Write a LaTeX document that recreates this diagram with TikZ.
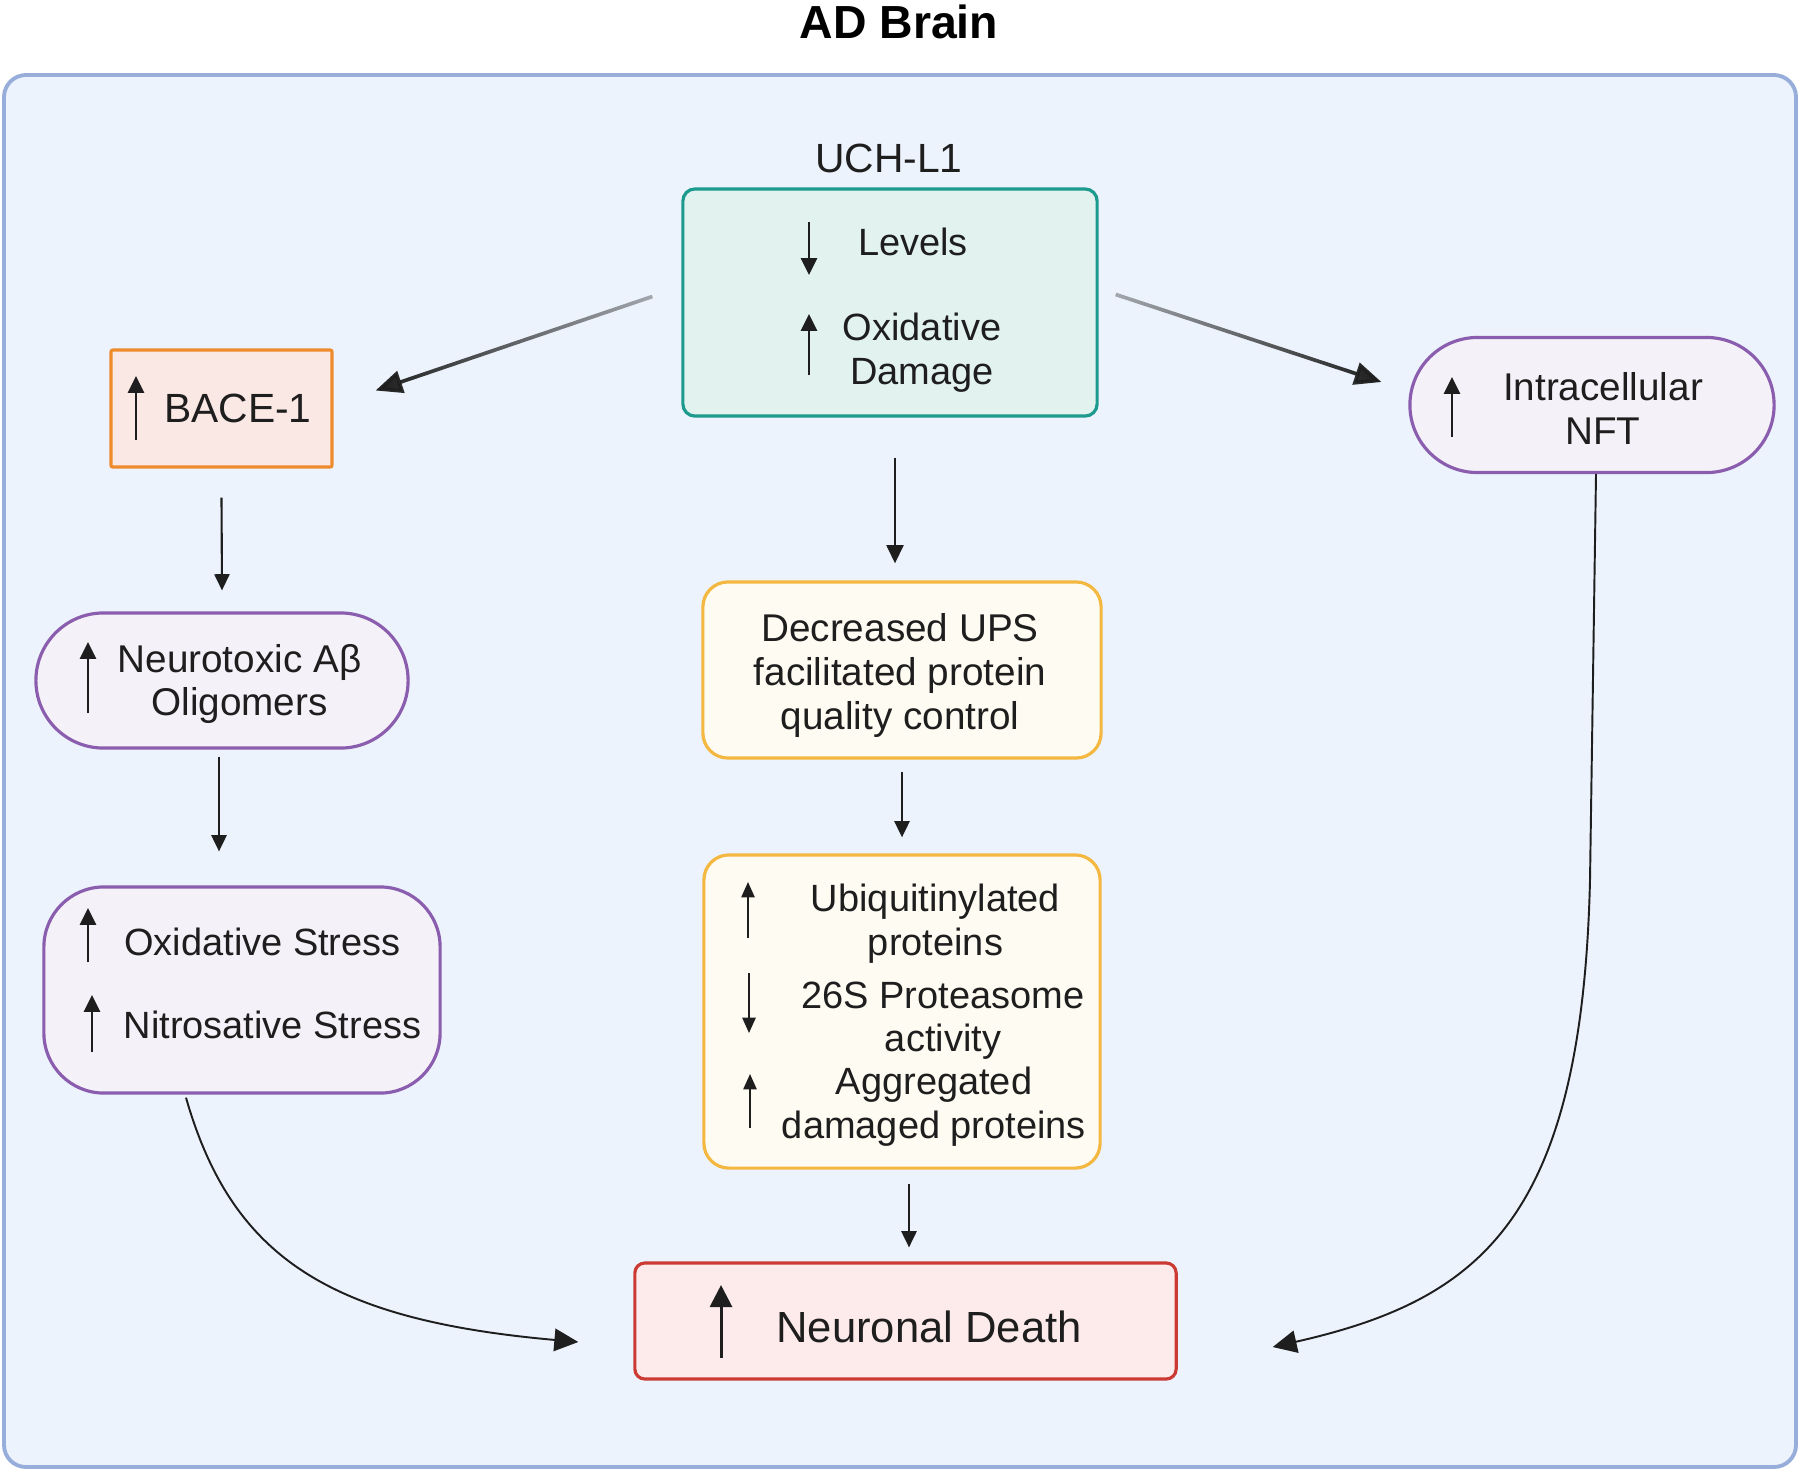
\documentclass[tikz,border=0pt]{standalone}
\usepackage{fontspec}
\setmainfont{Liberation Sans}
\usepackage{xcolor}
\usetikzlibrary{arrows.meta,calc,fadings}
\definecolor{panelfill}{HTML}{ECF3FC}
\definecolor{panelline}{HTML}{97AEDB}
\definecolor{ink}{HTML}{1E1E1E}
\definecolor{tealline}{HTML}{1C9A8D}
\definecolor{tealfill}{HTML}{E2F2EF}
\definecolor{orangeline}{HTML}{EE8B2D}
\definecolor{orangefill}{HTML}{FAE8E4}
\definecolor{purpleline}{HTML}{8A5DAE}
\definecolor{purplefill}{HTML}{F5F1F8}
\definecolor{yellowline}{HTML}{F4B73F}
\definecolor{yellowfill}{HTML}{FEFBF2}
\definecolor{redline}{HTML}{CB3A33}
\definecolor{redfill}{HTML}{FDEBEB}
\tikzfading[name=faderight, left color=transparent!0, middle color=transparent!0, right color=transparent!65]
\tikzfading[name=fadeleft, left color=transparent!65, middle color=transparent!0, right color=transparent!0]

\begin{document}
\begin{tikzpicture}[x=0.01cm,y=-0.01cm,
  box/.style={draw,line width=0.9pt,inner sep=0pt},
  txt/.style={font=\fontsize{10.8}{12.4}\selectfont,inner sep=0pt,text=ink},
  ind/.style={draw=ink,line width=0.65pt,-{Triangle[length=4.8pt,width=4.6pt]}},
  diag/.style={draw=ink,line width=1.05pt,-{Triangle[length=7.6pt,width=6.4pt]}},
  conn/.style={draw=ink,line width=0.6pt,-{Triangle[length=4.6pt,width=4.3pt]}},
  curvy/.style={draw=ink,line width=0.55pt,-{Triangle[length=6.8pt,width=6.4pt]}}]
  \useasboundingbox (0,0) rectangle (1800,1472);

  % panel and title
  \draw[fill=panelfill,draw=panelline,line width=1.1pt,rounded corners=0.22cm] (4,75) rectangle (1796,1467);
  \node[font=\bfseries\fontsize{13.2}{15}\selectfont,anchor=base,inner sep=0pt] (title) at (899,38) {AD Brain};

  % boxes
  \node[box,draw=tealline,fill=tealfill,minimum width=4.14cm,minimum height=2.27cm,rounded corners=0.12cm] (uch) at (890,302.5) {};
  \node[box,draw=orangeline,fill=orangefill,minimum width=2.21cm,minimum height=1.17cm,rounded corners=0.02cm] (bace) at (221.5,408.5) {};
  \node[box,draw=purpleline,fill=purplefill,minimum width=3.64cm,minimum height=1.35cm,rounded corners=0.675cm] (nft) at (1592,405) {};
  \node[box,draw=purpleline,fill=purplefill,minimum width=3.72cm,minimum height=1.35cm,rounded corners=0.675cm] (abeta) at (222,680.5) {};
  \node[box,draw=purpleline,fill=purplefill,minimum width=3.96cm,minimum height=2.06cm,rounded corners=0.6cm] (stress) at (242,990) {};
  \node[box,draw=yellowline,fill=yellowfill,minimum width=3.98cm,minimum height=1.76cm,rounded corners=0.25cm] (ups) at (902,670) {};
  \node[box,draw=yellowline,fill=yellowfill,minimum width=3.96cm,minimum height=3.13cm,rounded corners=0.25cm] (ubq) at (902,1011.5) {};
  \node[box,draw=redline,fill=redfill,minimum width=5.41cm,minimum height=1.16cm,rounded corners=0.1cm] (death) at (905.5,1321) {};

  % texts
  \node[txt,font=\fontsize{11.6}{13}\selectfont,anchor=base] (uchname) at (889,172) {UCH-L1};
  \node[txt,anchor=base] (uchlev) at (913,255) {Levels};
  \node[txt,align=center] (uchox) at (922,352.5) {Oxidative\\Damage};
  \node[txt,font=\fontsize{11.6}{13}\selectfont,anchor=base] (bacetxt) at (238,422) {BACE-1};
  \node[txt,align=center,font=\fontsize{11}{12.4}\selectfont] (nfttxt) at (1603,408.5) {Intracellular\\NFT};
  \node[txt,align=center,font=\fontsize{11}{12.4}\selectfont] (abetatxt) at (239.5,684) {Neurotoxic Aβ\\Oligomers};
  \node[txt,anchor=base] (oxtxt) at (262.5,955) {Oxidative Stress};
  \node[txt,anchor=base] (nitrotxt) at (272.5,1038) {Nitrosative Stress};
  \node[txt,align=center,font=\fontsize{11}{12.4}\selectfont] (upstxt) at (900,675.5) {Decreased UPS\\facilitated protein\\quality control};
  \node[txt,align=center] (ubqtxt) at (935.5,923.5) {Ubiquitinylated\\proteins};
  \node[txt,align=center] (proteotxt) at (943,1020.5) {26S Proteasome\\activity};
  \node[txt,align=center] (aggtxt) at (934,1106.5) {Aggregated\\damaged proteins};
  \node[txt,font=\fontsize{12.4}{14}\selectfont,anchor=base] (deathtxt) at (929,1342) {Neuronal Death};

  % up / down marks
  \draw[ind] (809,222) -- (809,275);
  \draw[ind] (809,375) -- (809,314);
  \draw[ind] (136,440) -- (136,376);
  \draw[ind] (1452,437) -- (1452,377);
  \draw[ind] (88,713) -- (88,642);
  \draw[ind] (88,962) -- (88,908);
  \draw[ind] (92,1052) -- (92,995);
  \draw[ind,line width=0.55pt,-{Triangle[length=4.4pt,width=3.8pt]}] (748,938) -- (748,882);
  \draw[ind,line width=0.55pt,-{Triangle[length=4.4pt,width=3.8pt]}] (749,973) -- (749,1033);
  \draw[ind,line width=0.55pt,-{Triangle[length=4.4pt,width=3.8pt]}] (750,1128) -- (750,1074);
  \draw[ind,line width=0.85pt,-{Triangle[length=6.3pt,width=6.3pt]}] (721,1358) -- (721,1285);

  % connectors
  \draw[diag,path fading=faderight] ($(uch.west)+(-29,-6)$) -- ($(bace.east)+(42,-18)$);
  \draw[diag,path fading=fadeleft] ($(uch.east)+(17,-8)$) -- ($(nft.west)+(-27,-23)$);
  \draw[conn,line width=0.75pt,-{Triangle[length=5.2pt,width=4.8pt]}] ($(uch.south)+(5,40)$) -- ($(ups.north)+(-7,-17)$);
  \draw[conn] ($(bace.south)+(0,29)$) -- ($(abeta.north)+(0,-21)$);
  \draw[conn] ($(abeta.south)+(-3,7)$) -- ($(stress.north)+(-23,-34)$);
  \draw[conn] ($(ups.south)+(0,12)$) -- ($(ubq.north)+(0,-16)$);
  \draw[conn] ($(ubq.south)+(7,14)$) -- ($(death.north)+(3.5,-14)$);
  \draw[curvy] ($(stress.south)+(-56,3)$) .. controls (232,1258) and (330,1320) .. ($(death.west)+(-55,21)$);
  \draw[curvy] ($(nft.south)+(4,0)$) -- (1590,880) .. controls (1582,1220) and (1480,1300) .. ($(death.east)+(95,26)$);
\end{tikzpicture}
\end{document}
